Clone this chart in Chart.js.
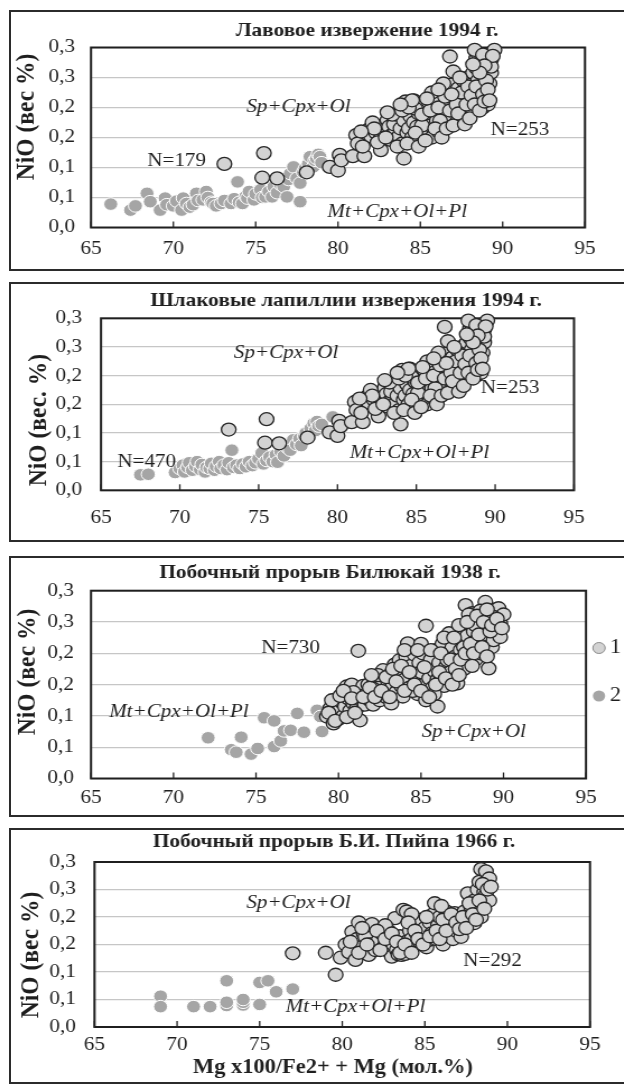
<!DOCTYPE html>
<html>
<head>
<meta charset="utf-8">
<title>NiO – Mg#</title>
<script src="https://cdn.jsdelivr.net/npm/chart.js@4.4.1/dist/chart.umd.min.js"></script>
<style>
  html, body { margin: 0; padding: 0; background: #fff; }
  body { position: relative; width: 624px; height: 1085px; overflow: hidden; }
  .frame { position: absolute; box-sizing: border-box; border: 2px solid #2b2b2b; pointer-events: none; }
  .cv { position: absolute; transform-origin: 0 0; }
  .cv canvas { display: block; }
</style>
</head>
<body>
<script>
// ---- axis tick labels ----
const xTickLabels = ['65', '70', '75', '80', '85', '90', '95'];
const yTickLabels = ['0,0', '0,1', '0,1', '0,2', '0,2', '0,3', '0,3'];

// ---- 1994 eruption, group 1 (same set in lava and lapilli panels) ----
const erupt1994Group1 = [
  [73.1,0.106],[75.5,0.124],[75.4,0.083],[76.3,0.082],[78.1,0.092],[79.5,0.101],[80.0,0.095],[80.1,0.121],
  [80.2,0.112],[80.9,0.119],[81.6,0.119],[81.1,0.154],[81.2,0.140],[81.9,0.164],[82.0,0.152],[82.3,0.158],
  [82.6,0.149],[82.6,0.129],[82.8,0.160],[82.7,0.170],[83.0,0.179],[83.2,0.146],[83.1,0.168],[83.3,0.155],
  [83.5,0.162],[83.4,0.172],[83.6,0.188],[83.7,0.152],[83.8,0.165],[83.9,0.140],[84.0,0.115],[84.0,0.178],
  [84.1,0.210],[84.2,0.158],[84.3,0.165],[84.4,0.185],[84.5,0.150],[84.6,0.212],[84.6,0.175],[84.8,0.168],
  [84.8,0.146],[84.9,0.190],[85.0,0.158],[85.0,0.205],[85.2,0.180],[85.3,0.165],[85.4,0.157],[85.4,0.185],
  [85.5,0.210],[85.6,0.170],[85.7,0.150],[85.8,0.193],[85.9,0.220],[86.0,0.212],[86.0,0.178],[86.1,0.160],
  [86.2,0.229],[86.3,0.195],[86.4,0.172],[86.5,0.205],[86.6,0.188],[86.7,0.225],[86.8,0.210],[86.8,0.285],
  [86.9,0.238],[86.9,0.180],[87.0,0.218],[87.1,0.195],[87.2,0.175],[87.3,0.232],[87.4,0.205],[87.5,0.185],
  [87.6,0.212],[87.6,0.245],[87.7,0.192],[87.8,0.228],[87.9,0.250],[88.0,0.205],[88.1,0.238],[88.2,0.195],
  [88.2,0.258],[88.3,0.220],[88.4,0.266],[88.4,0.282],[88.5,0.290],[88.5,0.245],[88.6,0.212],[88.7,0.232],
  [88.7,0.278],[88.8,0.200],[88.9,0.252],[89.0,0.262],[89.0,0.218],[89.1,0.272],[89.2,0.240],[89.2,0.288],
  [89.3,0.258],[89.3,0.280],[89.5,0.296],[89.1,0.205],[88.3,0.296],[86.2,0.178],[85.1,0.170],[84.7,0.198],
  [87.0,0.260],[86.4,0.240],[81.5,0.135],[82.1,0.175],[82.4,0.142],[82.9,0.150],[83.3,0.188],[83.6,0.135],
  [83.9,0.195],[84.2,0.140],[84.3,0.200],[84.7,0.158],[84.9,0.135],[85.1,0.188],[85.3,0.145],[85.6,0.195],
  [85.7,0.225],[85.9,0.165],[86.1,0.200],[86.3,0.150],[86.5,0.218],[86.6,0.165],[86.8,0.195],[87.0,0.170],
  [87.2,0.205],[87.3,0.190],[87.5,0.225],[87.7,0.172],[87.8,0.205],[87.9,0.235],[88.0,0.182],[88.1,0.220],
  [88.3,0.205],[88.4,0.235],[88.5,0.270],[88.6,0.195],[88.8,0.222],[88.8,0.288],[88.9,0.210],[89.0,0.245],
  [89.1,0.230],[89.2,0.212],[89.3,0.268],[89.4,0.286],[88.9,0.270],[88.6,0.258],[88.2,0.272],[87.4,0.250],
  [86.9,0.222],[86.1,0.230],[85.4,0.215],[84.5,0.212],[83.8,0.205],[83.0,0.192],[82.2,0.165],[81.4,0.160]
];

// ---- 1994 lava flow, group 2 ----
const lava1994Group2 = [
  [66.2,0.039],[67.4,0.029],[67.7,0.036],[68.4,0.057],[68.6,0.043],[69.2,0.029],[69.5,0.049],[69.6,0.038],
  [70.0,0.036],[70.2,0.044],[70.5,0.029],[70.6,0.049],[70.8,0.040],[71.0,0.034],[71.2,0.038],[71.4,0.057],
  [71.5,0.045],[71.8,0.046],[72.0,0.060],[72.1,0.050],[72.3,0.042],[72.4,0.040],[72.6,0.036],[72.9,0.040],
  [73.1,0.045],[73.5,0.040],[73.7,0.048],[73.9,0.076],[74.0,0.042],[74.2,0.040],[74.4,0.052],[74.5,0.049],
  [74.6,0.060],[74.9,0.046],[75.0,0.056],[75.3,0.063],[75.4,0.050],[75.6,0.051],[75.8,0.060],[76.0,0.051],
  [76.1,0.068],[76.3,0.058],[76.5,0.072],[76.7,0.068],[76.9,0.051],[77.0,0.080],[77.1,0.090],[77.3,0.101],
  [77.5,0.082],[77.7,0.074],[77.7,0.043],[77.9,0.092],[78.0,0.098],[78.2,0.106],[78.3,0.118],[78.5,0.101],
  [78.6,0.112],[78.7,0.115],[78.8,0.122],[78.9,0.118],[79.0,0.108]
];

// ---- 1994 scoria lapilli, group 2 ----
const lapilli1994Group2 = [
  [67.5,0.027],[68.0,0.028],[69.7,0.031],[70.0,0.038],[70.2,0.044],[70.3,0.032],[70.5,0.040],[70.6,0.048],
  [70.8,0.035],[71.0,0.042],[71.1,0.050],[71.3,0.036],[71.4,0.045],[71.6,0.032],[71.7,0.040],[71.9,0.038],
  [72.0,0.047],[72.2,0.035],[72.3,0.042],[72.5,0.050],[72.6,0.038],[72.8,0.044],[73.0,0.036],[73.1,0.048],
  [73.3,0.070],[73.4,0.040],[73.6,0.044],[73.8,0.038],[74.0,0.046],[74.2,0.041],[74.4,0.050],[74.6,0.043],
  [74.8,0.048],[75.0,0.055],[75.2,0.065],[75.3,0.046],[75.5,0.052],[75.7,0.058],[75.9,0.050],[76.1,0.062],
  [76.2,0.049],[76.4,0.068],[76.6,0.060],[76.8,0.075],[77.0,0.070],[77.2,0.088],[77.4,0.080],[77.6,0.090],
  [77.7,0.078],[77.9,0.095],[78.0,0.100],[78.2,0.092],[78.3,0.108],[78.5,0.117],[78.6,0.104],[78.7,0.120],
  [78.8,0.112],[79.0,0.115],[79.7,0.128],[73.0,0.105]
];

// ---- Bilyukai flank vent 1938 ----
const bilyukai1938Group1 = [
  [79.3,0.099],[79.5,0.112],[79.7,0.088],[79.8,0.105],[79.9,0.118],[80.0,0.095],[80.1,0.110],[80.2,0.122],
  [80.3,0.100],[80.4,0.115],[80.5,0.147],[80.6,0.128],[80.7,0.108],[80.8,0.150],[80.9,0.120],[81.0,0.135],
  [81.1,0.112],[81.2,0.204],[81.3,0.093],[81.3,0.140],[81.4,0.125],[81.5,0.148],[81.6,0.118],[81.7,0.135],
  [81.8,0.150],[81.9,0.125],[82.0,0.140],[82.1,0.118],[82.2,0.155],[82.3,0.132],[82.4,0.145],[82.5,0.125],
  [82.6,0.160],[82.7,0.173],[82.8,0.140],[82.9,0.130],[83.0,0.155],[83.1,0.141],[83.2,0.168],[83.3,0.150],
  [83.4,0.182],[83.5,0.138],[83.6,0.160],[83.7,0.189],[83.8,0.148],[83.9,0.131],[83.9,0.172],[84.0,0.158],
  [84.1,0.195],[84.2,0.216],[84.3,0.145],[84.4,0.180],[84.5,0.168],[84.6,0.198],[84.7,0.155],[84.8,0.135],
  [84.9,0.185],[85.0,0.170],[85.1,0.200],[85.2,0.150],[85.3,0.244],[85.3,0.125],[85.4,0.180],[85.5,0.160],
  [85.6,0.190],[85.7,0.145],[85.8,0.172],[85.9,0.205],[86.0,0.115],[86.0,0.158],[86.1,0.185],[86.2,0.165],
  [86.3,0.215],[86.4,0.148],[86.5,0.178],[86.6,0.189],[86.6,0.200],[86.7,0.232],[86.8,0.170],[86.9,0.210],
  [87.0,0.160],[87.1,0.195],[87.2,0.152],[87.2,0.225],[87.3,0.182],[87.4,0.205],[87.5,0.240],[87.6,0.210],
  [87.6,0.175],[87.7,0.277],[87.8,0.228],[87.9,0.195],[88.0,0.250],[88.1,0.264],[88.1,0.212],[88.2,0.235],
  [88.3,0.190],[88.4,0.222],[88.5,0.255],[88.6,0.200],[88.7,0.240],[88.8,0.265],[88.9,0.282],[88.9,0.215],
  [89.0,0.230],[89.1,0.176],[89.1,0.250],[89.2,0.262],[89.3,0.210],[89.4,0.221],[89.5,0.270],[89.6,0.240],
  [89.7,0.272],[89.8,0.226],[89.8,0.248],[90.0,0.262],[89.4,0.258],[88.6,0.268],[87.9,0.262],[86.9,0.190],
  [85.8,0.135],[84.5,0.140],[83.2,0.120],[82.4,0.165],[80.9,0.138],[79.6,0.125],[86.4,0.225],[87.3,0.245],
  [88.3,0.245],[85.0,0.215],[84.0,0.205],[79.4,0.105],[79.8,0.092],[80.1,0.132],[80.3,0.140],[80.5,0.098],
  [80.8,0.128],[81.0,0.105],[81.5,0.130],[81.9,0.145],[82.0,0.165],[82.2,0.130],[82.6,0.140],[82.9,0.162],
  [83.1,0.130],[83.3,0.175],[83.5,0.155],[83.8,0.180],[84.0,0.140],[84.3,0.170],[84.6,0.150],[84.8,0.205],
  [85.0,0.140],[85.2,0.178],[85.5,0.130],[85.6,0.205],[85.9,0.150],[86.1,0.170],[86.2,0.200],[86.5,0.160],
  [86.8,0.190],[86.9,0.150],[87.0,0.225],[87.1,0.175],[87.4,0.190],[87.7,0.200],[87.8,0.250],[88.0,0.215],
  [88.2,0.200],[88.4,0.260],[88.5,0.230],[88.7,0.210],[88.8,0.250],[89.0,0.270],[89.2,0.235],[89.3,0.245],
  [89.6,0.255],[89.9,0.240],[89.0,0.195],[88.1,0.180],[87.3,0.165]
];
const bilyukai1938Group2 = [
  [72.1,0.065],[73.5,0.046],[73.8,0.042],[74.1,0.066],[74.7,0.039],[75.1,0.048],[75.5,0.097],[76.1,0.092],
  [76.1,0.051],[76.5,0.060],[76.7,0.076],[77.1,0.077],[77.5,0.104],[77.9,0.074],[78.7,0.109],[78.9,0.099],
  [79.0,0.075]
];

// ---- B.I. Piip flank vent 1966 ----
const piip1966Group1 = [
  [77.0,0.134],[79.0,0.135],[79.6,0.095],[79.9,0.126],[80.2,0.150],[80.4,0.136],[80.6,0.173],[80.8,0.122],
  [80.9,0.160],[81.0,0.190],[81.1,0.145],[81.3,0.170],[81.4,0.164],[81.6,0.131],[81.7,0.150],[81.8,0.187],
  [82.0,0.140],[82.2,0.158],[82.4,0.170],[82.5,0.145],[82.7,0.160],[82.8,0.175],[82.9,0.135],[83.0,0.128],
  [83.1,0.150],[83.2,0.198],[83.3,0.140],[83.4,0.132],[83.5,0.165],[83.6,0.131],[83.6,0.145],[83.7,0.213],
  [83.7,0.138],[83.8,0.133],[83.9,0.210],[83.9,0.155],[84.0,0.140],[84.1,0.175],[84.2,0.160],[84.3,0.190],
  [84.4,0.148],[84.5,0.170],[84.6,0.185],[84.7,0.155],[84.8,0.195],[84.9,0.165],[85.0,0.180],[85.1,0.145],
  [85.2,0.158],[85.3,0.190],[85.4,0.170],[85.5,0.205],[85.6,0.225],[85.7,0.160],[85.8,0.185],[85.9,0.200],
  [86.0,0.170],[86.1,0.150],[86.2,0.182],[86.3,0.210],[86.4,0.165],[86.5,0.195],[86.6,0.180],[86.7,0.160],
  [86.8,0.207],[86.9,0.175],[87.0,0.190],[87.1,0.200],[87.2,0.164],[87.3,0.185],[87.4,0.210],[87.5,0.195],
  [87.6,0.243],[87.7,0.205],[87.8,0.219],[87.9,0.190],[88.0,0.189],[88.0,0.230],[88.1,0.210],[88.2,0.250],
  [88.3,0.264],[88.4,0.200],[88.4,0.287],[88.5,0.225],[88.6,0.245],[88.7,0.240],[88.7,0.283],[88.8,0.261],
  [88.9,0.270],[88.9,0.230],[86.0,0.220],[84.2,0.205],[82.6,0.185],[80.5,0.155],[81.0,0.135],[81.2,0.180],
  [81.5,0.150],[82.1,0.175],[82.3,0.140],[82.6,0.160],[83.0,0.170],[83.3,0.155],[83.5,0.135],[83.8,0.150],
  [84.0,0.190],[84.2,0.135],[84.4,0.175],[84.6,0.160],[84.9,0.150],[85.1,0.200],[85.3,0.165],[85.7,0.175],
  [85.9,0.160],[86.1,0.195],[86.3,0.175],[86.6,0.205],[86.9,0.190],[87.1,0.178],[87.3,0.200],[87.5,0.180],
  [87.7,0.225],[87.9,0.205],[88.1,0.195],[88.3,0.230],[88.5,0.260],[88.6,0.215],[88.8,0.250],[89.0,0.255]
];
const piip1966Group2 = [
  [69.0,0.056],[69.0,0.037],[71.0,0.037],[72.0,0.037],[73.0,0.084],[73.0,0.039],[73.0,0.045],[74.0,0.040],
  [74.0,0.045],[74.0,0.050],[75.0,0.081],[75.0,0.041],[75.5,0.084],[76.0,0.064],[77.0,0.069]
];

// ---- layout ----
const S = 1.12;                       // horizontal widening of the printed figure
const SERIF = "'Liberation Serif', 'Times New Roman', serif";
const INK = '#1e1e1e';
const TICK_SIZE = 19;

const panels = [
  {
    frame: { x: 9, y: 10, w: 614, h: 261 },
    plot: { l: 91, r: 585, t: 47.5, b: 227.5 },
    yLabRight: 75, xLabY: 249,
    title: { text: 'Лавовое извержение 1994 г.', x: 367, y: 31 },
    yTitle: { text: 'NiO (вес %)', x: 27, y: 117 },
    group1: erupt1994Group1, group2: lava1994Group2,
    notes: [
      { text: 'Sp+Cpx+Ol', x: 77.6, y: 0.201, italic: true },
      { text: 'N=179', x: 70.2, y: 0.110 },
      { text: 'N=253', x: 91.05, y: 0.1625 },
      { text: 'Mt+Cpx+Ol+Pl', x: 83.6, y: 0.026, italic: true }
    ]
  },
  {
    frame: { x: 9, y: 282, w: 614, h: 260 },
    plot: { l: 101, r: 574, t: 318.3, b: 490.3 },
    yLabRight: 82, xLabY: 518,
    title: { text: 'Шлаковые лапиллии извержения 1994 г.', x: 346, y: 301 },
    yTitle: { text: 'NiO (вес. %)', x: 39, y: 420 },
    group1: erupt1994Group1, group2: lapilli1994Group2,
    notes: [
      { text: 'Sp+Cpx+Ol', x: 76.74, y: 0.239, italic: true },
      { text: 'N=253', x: 90.95, y: 0.178 },
      { text: 'N=470', x: 67.9, y: 0.050 },
      { text: 'Mt+Cpx+Ol+Pl', x: 85.2, y: 0.0645, italic: true }
    ]
  },
  {
    frame: { x: 9, y: 556, w: 614, h: 261 },
    plot: { l: 91, r: 586, t: 590.7, b: 778.5 },
    yLabRight: 74, xLabY: 798,
    title: { text: 'Побочный прорыв Билюкай 1938 г.', x: 330, y: 573 },
    yTitle: { text: 'NiO (вес %)', x: 28, y: 672 },
    group1: bilyukai1938Group1, group2: bilyukai1938Group2,
    notes: [
      { text: 'N=730', x: 77.1, y: 0.208 },
      { text: 'Mt+Cpx+Ol+Pl', x: 70.33, y: 0.1067, italic: true },
      { text: 'Sp+Cpx+Ol', x: 88.2, y: 0.0748, italic: true }
    ],
    legend: { x: 599, y: [648, 696], textX: 610 }
  },
  {
    frame: { x: 9, y: 828, w: 614, h: 256 },
    plot: { l: 94.5, r: 590, t: 862, b: 1027 },
    yLabRight: 76, xLabY: 1045,
    title: { text: 'Побочный прорыв Б.И. Пийпа 1966 г.', x: 334, y: 842 },
    yTitle: { text: 'NiO (вес %)', x: 31, y: 955 },
    xTitle: { text: 'Mg x100/Fe2+ + Mg (мол.%)', x: 333, y: 1068 },
    group1: piip1966Group1, group2: piip1966Group2,
    notes: [
      { text: 'Sp+Cpx+Ol', x: 77.35, y: 0.225, italic: true },
      { text: 'N=292', x: 89.1, y: 0.119 },
      { text: 'Mt+Cpx+Ol+Pl', x: 80.8, y: 0.037, italic: true }
    ]
  }
];

const toPoints = arr => arr.map(([x, y]) => ({ x, y }));

function text(ctx, str, x, y, font, align) {
  ctx.font = font;
  ctx.fillStyle = INK;
  ctx.textAlign = align || 'center';
  ctx.textBaseline = 'middle';
  ctx.fillText(str, x, y);
}

// plot frame, inward x ticks, titles, phase-field notes and the legend
function decorPlugin(p) {
  const lx = px => (px - p.frame.x) / S;
  const ly = py => py - p.frame.y;
  return {
    id: 'decor',
    beforeDatasetsDraw(chart) {
      const { ctx, chartArea: a, scales: { x } } = chart;
      ctx.save();
      ctx.strokeStyle = '#1f1f1f';
      ctx.lineWidth = 1.3;
      x.ticks.forEach(t => {
        const px = x.getPixelForValue(t.value);
        ctx.beginPath();
        ctx.moveTo(px, a.bottom);
        ctx.lineTo(px, a.bottom - 6);
        ctx.stroke();
      });
      ctx.lineWidth = 2;
      ctx.strokeRect(a.left, a.top, a.right - a.left, a.bottom - a.top);
      ctx.restore();
    },
    afterDraw(chart) {
      const { ctx, scales: { x, y } } = chart;
      ctx.save();
      text(ctx, p.title.text, lx(p.title.x), ly(p.title.y), `bold 19px ${SERIF}`);
      p.notes.forEach(n => {
        text(ctx, n.text, x.getPixelForValue(n.x), y.getPixelForValue(n.y),
             `${n.italic ? 'italic ' : ''}18.8px ${SERIF}`);
      });
      // vertical axis title
      ctx.save();
      ctx.translate(lx(p.yTitle.x), ly(p.yTitle.y));
      ctx.rotate(-Math.PI / 2);
      text(ctx, p.yTitle.text, 0, 0, `bold 23.5px ${SERIF}`);
      ctx.restore();
      if (p.xTitle) {
        text(ctx, p.xTitle.text, lx(p.xTitle.x), ly(p.xTitle.y), `bold 20px ${SERIF}`);
      }
      if (p.legend) {
        chart.data.datasets.forEach((ds, i) => {
          const cx = lx(p.legend.x), cy = ly(p.legend.y[i]);
          ctx.beginPath();
          ctx.arc(cx, cy, 5.5, 0, Math.PI * 2);
          ctx.fillStyle = ds.pointBackgroundColor;
          ctx.fill();
          if (i === 0) { ctx.strokeStyle = '#8a8a8a'; ctx.lineWidth = 1; ctx.stroke(); }
          text(ctx, ds.label, lx(p.legend.textX), cy, `20px ${SERIF}`, 'left');
        });
      }
      ctx.restore();
    }
  };
}

panels.forEach(p => {
  const W = p.frame.w / S;
  const wrap = document.createElement('div');
  wrap.className = 'cv';
  wrap.style.left = p.frame.x + 'px';
  wrap.style.top = p.frame.y + 'px';
  wrap.style.width = W + 'px';
  wrap.style.height = p.frame.h + 'px';
  wrap.style.transform = `scaleX(${S})`;
  const canvas = document.createElement('canvas');
  wrap.appendChild(canvas);
  document.body.appendChild(wrap);

  // the panel box runs on past the right edge of the page
  const frame = document.createElement('div');
  frame.className = 'frame';
  frame.style.left = p.frame.x + 'px';
  frame.style.top = p.frame.y + 'px';
  frame.style.width = (p.frame.w + 10) + 'px';
  frame.style.height = p.frame.h + 'px';
  document.body.appendChild(frame);

  const plotLeft = (p.plot.l - p.frame.x) / S;
  const plotRight = (p.plot.r - p.frame.x) / S;

  new Chart(canvas, {
    type: 'scatter',
    data: {
      datasets: [
        {
          label: '1', data: toPoints(p.group1),
          pointRadius: 6.5, pointHoverRadius: 6.5,
          pointBackgroundColor: '#d3d3d3', pointBorderColor: '#262626', pointBorderWidth: 1.3,
          clip: false
        },
        {
          label: '2', data: toPoints(p.group2),
          pointRadius: 6.3, pointHoverRadius: 6.3,
          pointBackgroundColor: '#a5a5a5', pointBorderColor: '#ffffff', pointBorderWidth: 1,
          clip: false
        }
      ]
    },
    options: {
      responsive: true,
      maintainAspectRatio: false,
      animation: false,
      events: [],
      layout: {
        autoPadding: false,
        padding: { left: 0, top: p.plot.t - p.frame.y, right: W - plotRight, bottom: 0 }
      },
      plugins: { legend: { display: false }, tooltip: { enabled: false }, title: { display: false } },
      scales: {
        x: {
          type: 'linear', min: 65, max: 95,
          border: { display: false },
          grid: { display: false, drawTicks: false },
          ticks: {
            stepSize: 5, autoSkip: false, maxRotation: 0, minRotation: 0,
            padding: p.xLabY - p.plot.b - 0.6 * TICK_SIZE,
            color: INK, font: { family: SERIF, size: TICK_SIZE },
            callback: (v, i) => xTickLabels[i]
          },
          afterFit: s => { s.height = p.frame.y + p.frame.h - p.plot.b; }
        },
        y: {
          type: 'linear', min: 0, max: 0.3,
          border: { display: false },
          grid: { color: '#c6c6c6', lineWidth: 1.3, drawTicks: false },
          ticks: {
            stepSize: 0.05, autoSkip: false,
            padding: (p.plot.l - p.yLabRight) / S,
            color: INK, font: { family: SERIF, size: TICK_SIZE },
            callback: (v, i) => yTickLabels[i]
          },
          afterFit: s => { s.width = plotLeft; }
        }
      }
    },
    plugins: [decorPlugin(p)]
  });
});
</script>
</body>
</html>
